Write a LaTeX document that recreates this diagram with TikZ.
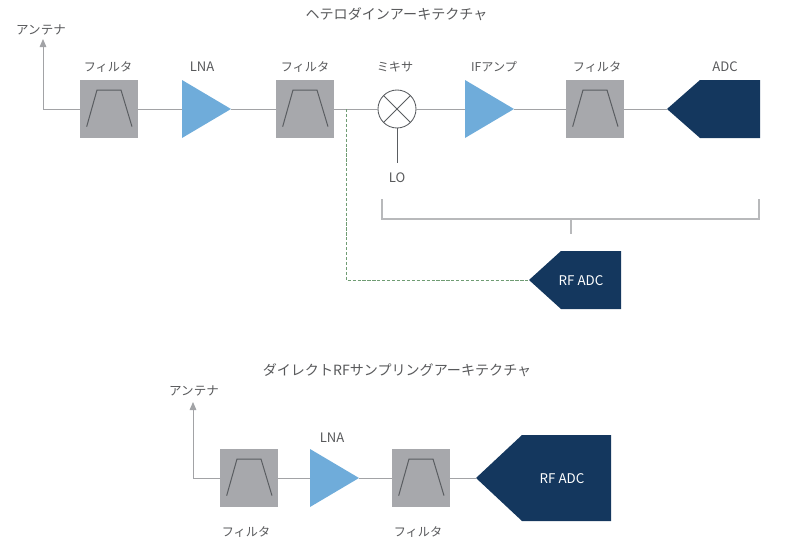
\documentclass[tikz,border=0pt]{standalone}
\usepackage{fontspec}
\setmainfont{Noto Sans CJK JP}
\usetikzlibrary{arrows.meta}
\definecolor{wirecol}{HTML}{A2A3A6}
\definecolor{bracketcol}{HTML}{B8B9BB}
\definecolor{boxcol}{HTML}{A7A8AC}
\definecolor{curvecol}{HTML}{5A5D61}
\definecolor{ampcol}{HTML}{6FACDA}
\definecolor{adccol}{HTML}{14375E}
\definecolor{tapcol}{HTML}{6F9C73}
\definecolor{labelcol}{HTML}{58595B}
\tikzset{
  x=0.75pt, y=-0.75pt,
  wire/.style={draw=wirecol, line width=0.65pt},
  bracketline/.style={draw=bracketcol, line width=0.95pt},
  antenna/.style={wire, -{Triangle[length=6pt,width=5pt]}},
  tapline/.style={draw=tapcol, line width=0.7pt, dash pattern=on 2.4pt off 1.3pt},
  filterbox/.style={rectangle, minimum size=43.5pt, inner sep=0pt, fill=boxcol,
    path picture={
      \draw[curvecol, line width=0.75pt]
        ([xshift=5pt,yshift=-35pt]path picture bounding box.north west)
        -- ([xshift=12.75pt,yshift=-7.5pt]path picture bounding box.north west)
        -- ([xshift=30.75pt,yshift=-7.5pt]path picture bounding box.north west)
        -- ([xshift=39pt,yshift=-35pt]path picture bounding box.north west);
    }},
  ampshape/.style={rectangle, minimum width=36.75pt, minimum height=43.5pt, inner sep=0pt,
    path picture={
      \fill[ampcol] (path picture bounding box.north west)
        -- (path picture bounding box.east)
        -- (path picture bounding box.south west) -- cycle;
    }},
  adcshape/.style={rectangle, inner sep=0pt,
    path picture={
      \fill[adccol] (path picture bounding box.west)
        -- ([xshift=#1]path picture bounding box.north west)
        -- (path picture bounding box.north east)
        -- (path picture bounding box.south east)
        -- ([xshift=#1]path picture bounding box.south west) -- cycle;
    }},
  mixershape/.style={circle, minimum size=28.5pt, inner sep=0pt, draw=curvecol, line width=0.65pt,
    path picture={
      \draw[curvecol, line width=0.65pt]
        (path picture bounding box.north west) -- (path picture bounding box.south east)
        (path picture bounding box.north east) -- (path picture bounding box.south west);
    }},
  kanalbl/.style={text=labelcol, font=\fontsize{9.1pt}{11pt}\selectfont, inner sep=0pt},
  antlbl/.style={text=labelcol, font=\fontsize{9.4pt}{11pt}\selectfont, inner sep=0pt},
  latinlbl/.style={text=labelcol, font=\fontsize{9.8pt}{11pt}\selectfont, inner sep=0pt},
  headline/.style={text=labelcol, font=\fontsize{10.55pt}{12pt}\selectfont, inner sep=0pt},
  adclbl/.style={text=white, font=\fontsize{10pt}{11pt}\selectfont, inner sep=0pt},
}
\begin{document}
\begin{tikzpicture}
\useasboundingbox (0,0) rectangle (800,553);

% Heterodyne chain
\node[headline] (titleA) at (396.5,14) {ヘテロダインアーキテクチャ};
\node[filterbox] (fa) at (109,109) {};
\node[ampshape] (lnaA) at (206.5,109) {};
\node[filterbox] (fb) at (305,109) {};
\node[mixershape] (mix) at (397,109) {};
\node[ampshape] (ifamp) at (489.5,109) {};
\node[filterbox] (fc) at (595,109) {};
\node[adcshape=24.75pt, minimum width=69.75pt, minimum height=43.5pt] (adcA) at (713.5,109) {};
\node[adcshape=24pt, minimum width=69pt, minimum height=43.5pt] (adcB) at (575,280) {};

\coordinate (antCornerA) at (43,109);
\coordinate (antTipA) at (43,39);
\coordinate (tap) at (346,109);
\coordinate (brLeftTop) at (382,199);
\coordinate (brLeft) at (382,219);
\coordinate (brRightTop) at (759,199);
\coordinate (brRight) at (759,219);
\coordinate (brMid) at (571,219);
\coordinate (brStem) at (571,234);
\coordinate (loEnd) at (397,163);

\draw[antenna] (fa.west) -- (antCornerA) -- (antTipA);
\draw[wire] (fa.east) -- (lnaA.west);
\draw[wire] (lnaA.east) -- (fb.west);
\draw[wire] (fb.east) -- (mix.west);
\draw[wire] (mix.east) -- (ifamp.west);
\draw[wire] (ifamp.east) -- (fc.west);
\draw[wire] (fc.east) -- (adcA.west);
\draw[draw=curvecol, line width=0.65pt] (mix.south) -- (loEnd);
\draw[bracketline] (brLeftTop) -- (brLeft) -- (brRight) -- (brRightTop);
\draw[bracketline] (brMid) -- (brStem);
\draw[tapline] (tap) |- (adcB.west);

\node[antlbl] (antLabelA) at (41,30) {アンテナ};
\node[kanalbl] (faLabel) at (108,67) {フィルタ};
\node[latinlbl] (lnaLabelA) at (202,67) {LNA};
\node[kanalbl] (fbLabel) at (305,67) {フィルタ};
\node[kanalbl] (mixLabel) at (395,67) {ミキサ};
\node[kanalbl] (ifLabel) at (494,67) {IFアンプ};
\node[kanalbl] (fcLabel) at (597,67) {フィルタ};
\node[latinlbl] (adcLabelA) at (725,67) {ADC};
\node[latinlbl] (loLabel) at (397,178) {LO};
\node[adclbl] (adcLabelB) at (581,281) {RF ADC};

% Direct RF sampling chain
\node[headline] (titleB) at (397,370) {ダイレクトRFサンプリングアーキテクチャ};
\node[filterbox] (fd) at (249,478) {};
\node[ampshape] (lnaB) at (334.5,478) {};
\node[filterbox] (fe) at (421,478) {};
\node[adcshape=34.5pt, minimum width=101.25pt, minimum height=64.5pt] (adcC) at (543.5,478) {};
\coordinate (antCornerB) at (193,478);
\coordinate (antTipB) at (193,402);

\draw[antenna] (fd.west) -- (antCornerB) -- (antTipB);
\draw[wire] (fd.east) -- (lnaB.west);
\draw[wire] (lnaB.east) -- (fe.west);
\draw[wire] (fe.east) -- (adcC.west);

\node[antlbl] (antLabelB) at (194,391) {アンテナ};
\node[latinlbl] (lnaLabelB) at (332,438) {LNA};
\node[kanalbl] (fdLabel) at (246,532) {フィルタ};
\node[kanalbl] (feLabel) at (418,532) {フィルタ};
\node[adclbl] (adcLabelC) at (562,479) {RF ADC};
\end{tikzpicture}
\end{document}
